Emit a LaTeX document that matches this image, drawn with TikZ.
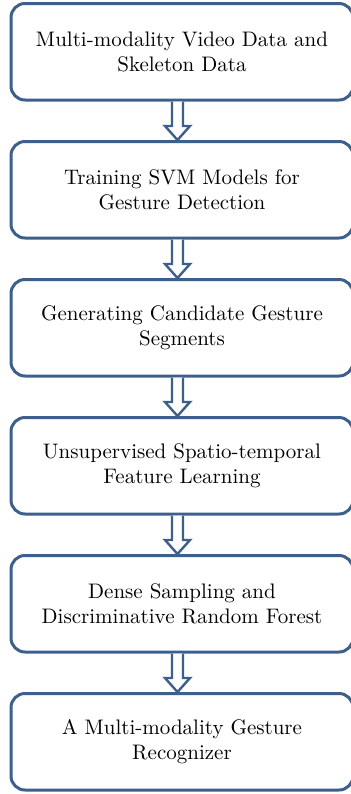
\documentclass[tikz,border=0pt]{standalone}
\usetikzlibrary{calc}
\definecolor{bblue}{HTML}{3D5F8C}
\begin{document}
\begin{tikzpicture}[x=0.5pt,y=-0.5pt,
  stepbox/.style={draw=bblue,line width=1.5pt,rounded corners=7pt,fill=white,
    minimum width=171pt,minimum height=48.25pt,inner sep=0pt,align=center,
    font=\fontsize{10.5}{12.6}\selectfont},
  hollowarrow/.style={draw=bblue,fill=white,line width=1.2pt,line join=miter}]
\useasboundingbox (0,0) rectangle (351,794);
\node[stepbox] (b1) at (182,51.75) {Multi-modality Video Data and\\Skeleton Data};
\node[stepbox] (b2) at (182,189.75) {Training SVM Models for\\Gesture Detection};
\node[stepbox] (b3) at (182,327.75) {Generating Candidate Gesture\\Segments};
\node[stepbox] (b4) at (182,465.75) {Unsupervised Spatio-temporal\\Feature Learning};
\node[stepbox] (b5) at (182,603.75) {Dense Sampling and\\Discriminative Random Forest};
\node[stepbox] (b6) at (182,741.75) {A Multi-modality Gesture\\Recognizer};
\foreach \a/\b in {b1/b2,b2/b3,b3/b4,b4/b5,b5/b6}{
  \draw[hollowarrow] ($(\a.south)+(-10,0)$) -- ($(\b.north)+(-10,-14)$)
    -- ($(\b.north)+(-17,-14)$) -- ($(\b.north)+(-4.5,0)$) -- ($(\b.north)+(8,-14)$)
    -- ($(\b.north)+(1,-14)$) -- ($(\a.south)+(1,0)$);
}
\end{tikzpicture}
\end{document}
